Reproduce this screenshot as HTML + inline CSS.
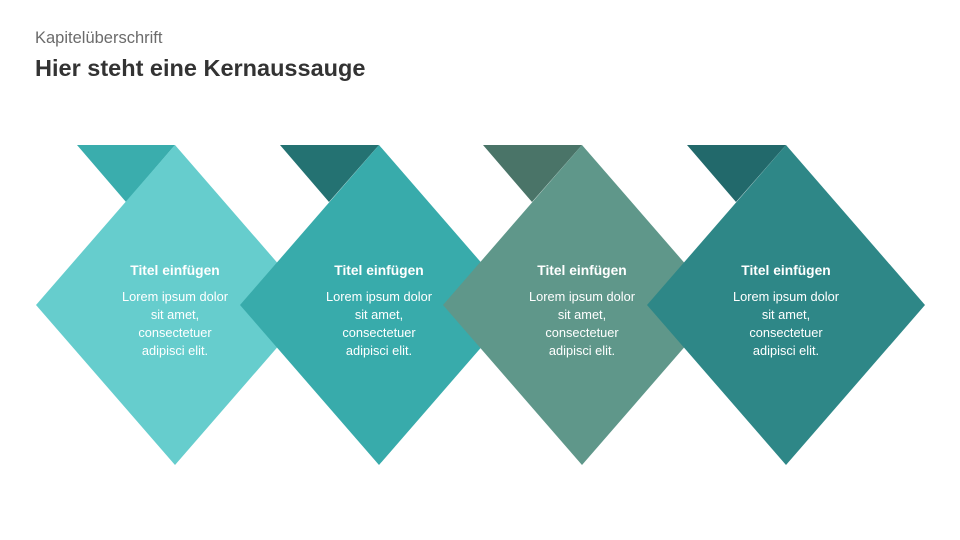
<!DOCTYPE html>
<html><head><meta charset="utf-8"><style>
body{margin:0;background:#fff;}
svg{display:block}
text{font-family:"Liberation Sans",sans-serif}
</style></head><body>
<svg width="960" height="540" viewBox="0 0 960 540">
<text x="35" y="43" font-size="16.5" fill="#6b6b6b">Kapitelüberschrift</text>
<text x="35" y="76" font-size="23.5" font-weight="bold" fill="#333">Hier steht eine Kernaussauge</text>
<polygon points="77,145 175,145 126,202" fill="#3aadad"/>
<polygon points="175,145 314,305 175,465 36,305" fill="#66cdcd"/>
<polygon points="280,145 379,145 329,202" fill="#247272"/>
<polygon points="379,145 518,305 379,465 240,305" fill="#38abab"/>
<polygon points="483,145 582,145 532,202" fill="#4a7468"/>
<polygon points="582,145 721,305 582,465 443,305" fill="#5f978a"/>
<polygon points="687,145 786,145 736,202" fill="#22696b"/>
<polygon points="786,145 925,305 786,465 647,305" fill="#2e8787"/>
<g fill="#fff" text-anchor="middle">
<g font-size="13.8" font-weight="bold">
<text x="175" y="275">Titel einfügen</text>
<text x="379" y="275">Titel einfügen</text>
<text x="582" y="275">Titel einfügen</text>
<text x="786" y="275">Titel einfügen</text>
</g>
<g font-size="12.8">
<text x="175" y="301">Lorem ipsum dolor</text><text x="175" y="319">sit amet,</text><text x="175" y="337">consectetuer</text><text x="175" y="355">adipisci elit.</text>
<text x="379" y="301">Lorem ipsum dolor</text><text x="379" y="319">sit amet,</text><text x="379" y="337">consectetuer</text><text x="379" y="355">adipisci elit.</text>
<text x="582" y="301">Lorem ipsum dolor</text><text x="582" y="319">sit amet,</text><text x="582" y="337">consectetuer</text><text x="582" y="355">adipisci elit.</text>
<text x="786" y="301">Lorem ipsum dolor</text><text x="786" y="319">sit amet,</text><text x="786" y="337">consectetuer</text><text x="786" y="355">adipisci elit.</text>
</g></g>
</svg>
</body></html>
